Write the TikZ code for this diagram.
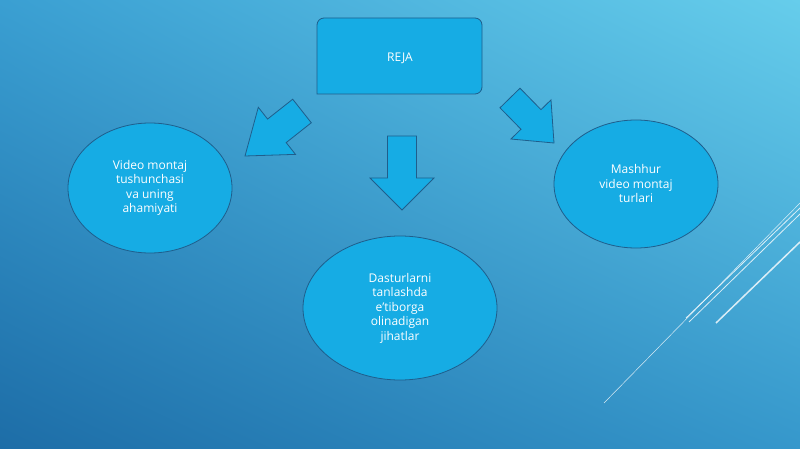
\documentclass[tikz,border=0pt]{standalone}
\usepackage{fontspec}
\setmainfont{Open Sans}
\usetikzlibrary{calc,shadings,shapes.geometric}
\definecolor{bgdark}{HTML}{1D6DA7}
\definecolor{bgmid}{HTML}{3A9FD2}
\definecolor{bglight}{HTML}{66CDEB}
\definecolor{boxfill}{HTML}{16ACE4}
\definecolor{boxline}{HTML}{1F5E8C}

% block arrow: name, tail, tip, shaft width, head width, head length
\newcommand\blockarrow[6]{%
  \coordinate (#1-base) at ($(#2)!#6!(#3)$);
  \filldraw[blockarr]
    ($(#2)!#4/2!90:(#3)$) -- ($(#1-base)!#4/2!-90:(#2)$) --
    ($(#1-base)!#5/2!-90:(#2)$) -- (#3) --
    ($(#1-base)!#5/2!90:(#2)$) -- ($(#1-base)!#4/2!90:(#2)$) --
    ($(#2)!#4/2!-90:(#3)$) -- cycle;}

\begin{document}
\begin{tikzpicture}[x=1pt,y=-1pt,
    topic/.style={ellipse, draw=boxline, fill=boxfill, thick, text=white, align=center, font=\fontsize{12}{14.5}\selectfont},
    blockarr/.style={draw=boxline, fill=boxfill, thick, line join=miter},
    deco/.style={white, opacity=0.8}
  ]
  \useasboundingbox (0,0) rectangle (800,449);
  \shade[lower left=bgdark, upper right=bglight, upper left=bgmid, lower right=bgmid!85!bgdark] (0,449) rectangle (800,0);

  % decorative lines
  \draw[deco, line width=0.5pt] (604,403) -- (800,203);
  \draw[deco, line width=0.8pt] (686,318) -- (800,208);
  \draw[deco, line width=0.8pt] (689,322) -- (800,214);
  \draw[deco, line width=1.5pt] (716,323) -- (800,242);

  % title box
  \draw[boxline, fill=boxfill, thick, rounded corners=7pt]
    (317,94) -- (317,18) -- (482,18) -- (482,94) [sharp corners] -- cycle;
  \node[text=white, font=\fontsize{12}{14.5}\selectfont] (reja) at (400,58) {REJA};

  % topics
  \node[topic, minimum width=164pt, minimum height=130pt] (tushuncha) at (150,188)
    {Video montaj\\tushunchasi\\va uning\\ahamiyati};
  \node[topic, minimum width=194pt, minimum height=144pt] (dastur) at (400,308)
    {Dasturlarni\\tanlashda\\e'tiborga\\olinadigan\\jihatlar};
  \node[topic, minimum width=164pt, minimum height=128pt] (turlar) at (636,184)
    {Mashhur\\video montaj\\turlari};

  % arrows
  \coordinate (la-tail) at (302,111);
  \coordinate (la-tip) at (245,156);
  \coordinate (ma-tail) at (402,136);
  \coordinate (ma-tip) at (402,210);
  \coordinate (ra-tail) at (510,98);
  \coordinate (ra-tip) at (554,143);
  \blockarrow{la}{la-tail}{la-tip}{30pt}{60pt}{32pt}
  \blockarrow{ma}{ma-tail}{ma-tip}{29pt}{64pt}{42pt}
  \blockarrow{ra}{ra-tail}{ra-tip}{28pt}{56pt}{30pt}
\end{tikzpicture}
\end{document}
